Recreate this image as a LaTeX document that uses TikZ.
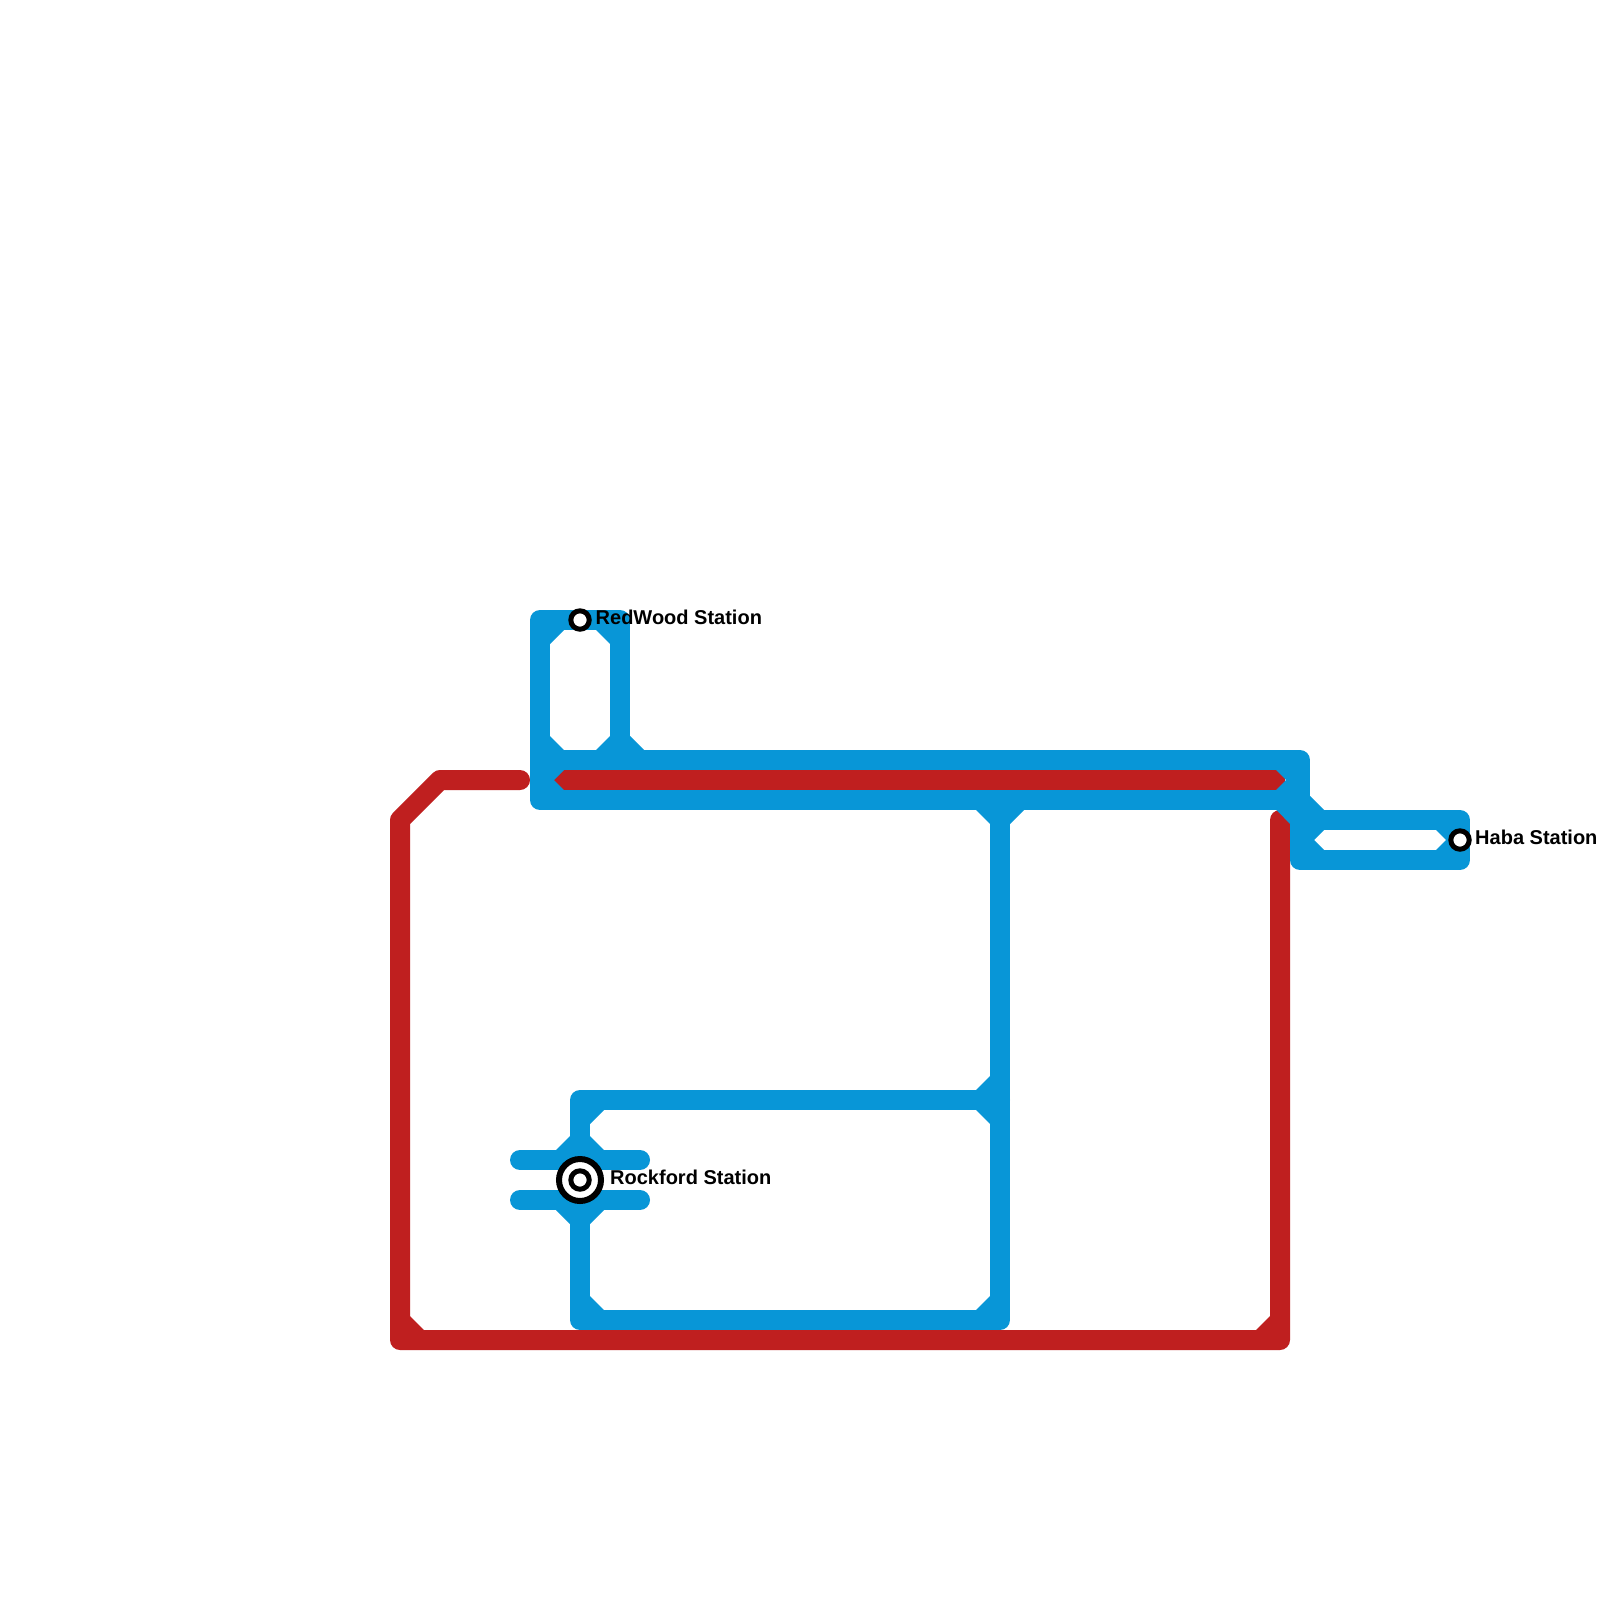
\documentclass[tikz,border=0pt]{standalone}
\usepackage{fontspec}
\setmainfont{Liberation Sans}
\definecolor{lineblue}{HTML}{0896D7}
\definecolor{linered}{HTML}{BF1F1F}
\tikzset{
  blueline/.style={draw=lineblue,line width=20pt,line join=round,line cap=round},
  redline/.style={draw=linered,line width=20pt,line join=round,line cap=round},
  redbar/.style={draw=linered,line width=20pt,line cap=butt},
  bluewedge/.style={fill=lineblue,draw=none},
  redwedge/.style={fill=linered,draw=none},
  stationdot/.style={circle,draw=black,fill=white,line width=5pt,minimum size=18.4pt,inner sep=0pt},
  stationbig/.style={circle,draw=black,fill=white,line width=6pt,minimum size=42pt,inner sep=0pt},
  stationlabel/.style={anchor=base west,inner sep=0pt,font=\fontsize{20}{22}\selectfont\bfseries,text=black}
}
\begin{document}
\begin{tikzpicture}[x=1pt,y=-1pt]
\useasboundingbox (0,0) rectangle (1600,1600);
\fill[white] (0,0) rectangle (1600,1600);
% named vertices
\coordinate (ra) at (520,780);
\coordinate (rb) at (440,780);
\coordinate (rc) at (400,820);
\coordinate (rd) at (400,1340);
\coordinate (re) at (1280,1340);
\coordinate (rf) at (1280,820);
\coordinate (rg) at (545,780);
\coordinate (rh) at (1285,780);
\coordinate (tl) at (540,620);
\coordinate (tr) at (620,620);
\coordinate (ml) at (540,760);
\coordinate (mr) at (620,760);
\coordinate (bl) at (540,800);
\coordinate (me) at (1300,760);
\coordinate (be) at (1300,800);
\coordinate (ha) at (1300,820);
\coordinate (hb) at (1460,820);
\coordinate (hc) at (1460,860);
\coordinate (hd) at (1300,860);
\coordinate (va) at (1000,800);
\coordinate (vb) at (1000,1100);
\coordinate (vc) at (1000,1320);
\coordinate (ka) at (580,1100);
\coordinate (kb) at (580,1320);
\coordinate (la) at (520,1160);
\coordinate (lb) at (640,1160);
\coordinate (lc) at (520,1200);
\coordinate (ld) at (640,1200);
% red line
\draw[redline] (ra) -- (rb) -- (rc) -- (rd) -- (re) -- (rf);
\draw[redbar] (rg) -- (rh);
\fill[redwedge] (410,1316) -- (424,1330) -- (410,1330) -- cycle;
\fill[redwedge] (1270,1316) -- (1256,1330) -- (1270,1330) -- cycle;
% blue lines
\draw[blueline] (ml) -- (tl) -- (tr) -- (mr);
\draw[blueline] (ml) -- (me) -- (hd) -- (hc) -- (hb) -- (ha);
\draw[blueline] (ml) -- (bl) -- (be);
\draw[blueline] (va) -- (vc) -- (kb) -- (ka) -- (vb);
\draw[blueline] (la) -- (lb);
\draw[blueline] (lc) -- (ld);
% blue wedges at junctions
\fill[bluewedge] (550,644) -- (564,630) -- (550,630) -- cycle;
\fill[bluewedge] (610,644) -- (596,630) -- (610,630) -- cycle;
\fill[bluewedge] (550,736) -- (564,750) -- (550,750) -- cycle;
\fill[bluewedge] (610,736) -- (596,750) -- (610,750) -- cycle;
\fill[bluewedge] (630,736) -- (644,750) -- (630,750) -- cycle;
\fill[bluewedge] (549,770) -- (564,770) -- (554,780) -- (564,790) -- (549,790) -- cycle;
\fill[bluewedge] (1291,770) -- (1276,770) -- (1286,780) -- (1276,790) -- (1291,790) -- cycle;
\fill[bluewedge] (1276,809.5) -- (1291,809.5) -- (1291,825) -- cycle;
\fill[bluewedge] (1310,796) -- (1324,810) -- (1310,810) -- cycle;
\fill[bluewedge] (1309,830) -- (1324,830) -- (1314,840) -- (1324,850) -- (1309,850) -- cycle;
\fill[bluewedge] (1451,830) -- (1436,830) -- (1446,840) -- (1436,850) -- (1451,850) -- cycle;
\fill[bluewedge] (976,810) -- (990,824) -- (990,810) -- cycle;
\fill[bluewedge] (1024,810) -- (1010,824) -- (1010,810) -- cycle;
\fill[bluewedge] (976,1090) -- (990,1076) -- (990,1090) -- cycle;
\fill[bluewedge] (976,1110) -- (990,1124) -- (990,1110) -- cycle;
\fill[bluewedge] (976,1310) -- (990,1296) -- (990,1310) -- cycle;
\fill[bluewedge] (590,1124) -- (604,1110) -- (590,1110) -- cycle;
\fill[bluewedge] (590,1136) -- (604,1150) -- (590,1150) -- cycle;
\fill[bluewedge] (570,1136) -- (556,1150) -- (570,1150) -- cycle;
\fill[bluewedge] (556,1210) -- (570,1224) -- (570,1210) -- cycle;
\fill[bluewedge] (604,1210) -- (590,1224) -- (590,1210) -- cycle;
\fill[bluewedge] (590,1296) -- (604,1310) -- (590,1310) -- cycle;
% stations
\node[stationdot] (redwood) at (580,620) {};
\node[stationdot] (haba) at (1460,840) {};
\node[stationbig] (rockfordouter) at (580,1180) {};
\node[stationdot] (rockford) at (580,1180) {};
% labels
\node[stationlabel] (redwoodlabel) at (595.5,624.8) {RedWood Station};
\node[stationlabel] (habalabel) at (1475,844.8) {Haba Station};
\node[stationlabel] (rockfordlabel) at (610,1184.8) {Rockford Station};
\end{tikzpicture}
\end{document}
